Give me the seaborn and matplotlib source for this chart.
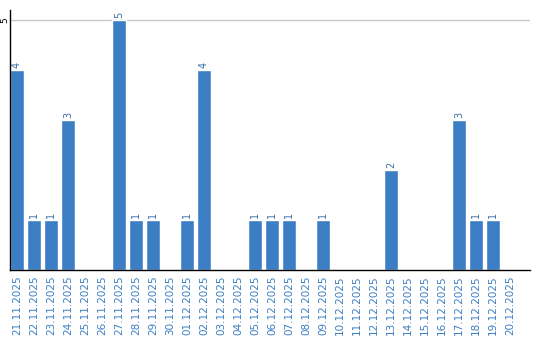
import matplotlib
matplotlib.use("Agg")
import matplotlib.pyplot as plt
import matplotlib.transforms as mtransforms
import seaborn as sns
import pandas as pd

dates = ["21.11.2025", "22.11.2025", "23.11.2025", "24.11.2025", "25.11.2025",
         "26.11.2025", "27.11.2025", "28.11.2025", "29.11.2025", "30.11.2025",
         "01.12.2025", "02.12.2025", "03.12.2025", "04.12.2025", "05.12.2025",
         "06.12.2025", "07.12.2025", "08.12.2025", "09.12.2025", "10.12.2025",
         "11.12.2025", "12.12.2025", "13.12.2025", "14.12.2025", "15.12.2025",
         "16.12.2025", "17.12.2025", "18.12.2025", "19.12.2025", "20.12.2025"]
counts = [4, 1, 1, 3, 0, 0, 5, 1, 1, 0, 1, 4, 0, 0, 1, 1, 1, 0, 1, 0,
          0, 0, 2, 0, 0, 0, 3, 1, 1, 0]
y_ticks = [5]

df = pd.DataFrame({"date": dates, "count": counts})

sns.set_style("white")
plt.rcParams['font.family'] = ['DejaVu Sans']

fig = plt.figure(figsize=(5.4, 3.4), dpi=100)
ax = fig.add_axes([10/540, 1-270/340, 520/540, 260/340])

bar_color = "#3c7ec4"
sns.barplot(data=df, x="date", y="count", color=bar_color, saturation=1,
            width=0.82, ax=ax, order=dates)

ax.set_xlim(-0.41, 30.18)
ax.set_ylim(0, 5.2)
ax.set_yticks(y_ticks)
ax.set_yticklabels([])
ax.tick_params(axis="y", length=0)
ax.tick_params(axis="x", length=0, pad=4)
trans = mtransforms.blended_transform_factory(fig.transFigure, ax.transData)
for t in y_ticks:
    ax.axhline(t, color="#c8c8c8", lw=1, zorder=0)
    ax.text(5/540, t, str(t), rotation=90, ha="center", va="center",
            fontsize=6.5, color="black", transform=trans, clip_on=False)

ax.set_xticks(range(len(dates)))
ax.set_xticklabels(dates, rotation=90, fontsize=7.5, color="#3c7ec4")
ax.set_xlabel("")
ax.set_ylabel("")

for s in ["top", "right"]:
    ax.spines[s].set_visible(False)
ax.spines["left"].set_color("black")
ax.spines["bottom"].set_color("black")
ax.spines["left"].set_linewidth(1)
ax.spines["bottom"].set_linewidth(1)

for i, v in enumerate(counts):
    if v > 0:
        ax.text(i, v + 0.04, str(v), rotation=90, ha="center", va="bottom",
                fontsize=7, color="#3c6fa8")

fig.savefig("out.png", dpi=100)
